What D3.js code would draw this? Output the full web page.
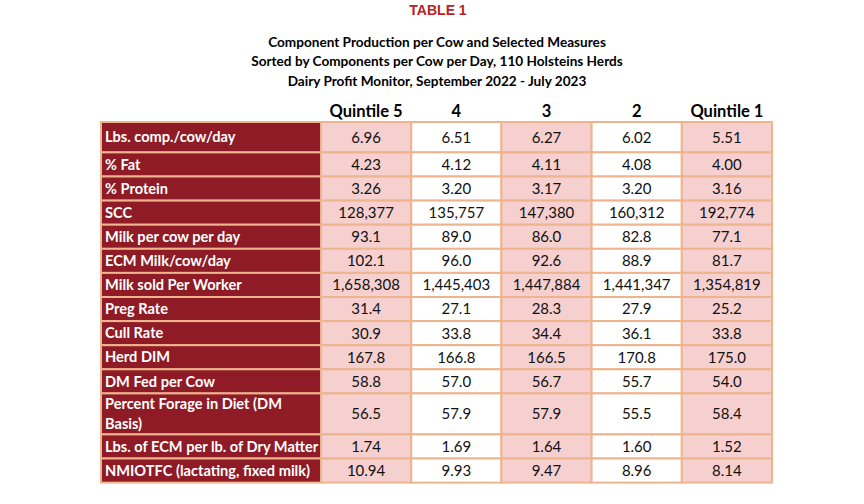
<!DOCTYPE html>
<html>
<head>
<meta charset="utf-8">
<script src="https://cdn.jsdelivr.net/npm/d3@7"></script>
<style>
  body { margin: 0; background: #fff; }
  text { font-family: Lato, "Open Sans", sans-serif; }
</style>
</head>
<body>
<div id="chart"></div>
<script>
// table content
var title = "TABLE 1";
var subtitle = [
  "Component Production per Cow and Selected Measures",
  "Sorted by Components per Cow per Day, 110 Holsteins Herds",
  "Dairy Profit Monitor, September 2022 - July 2023"
];
var quintiles = ["Quintile 5", "4", "3", "2", "Quintile 1"];
var measures = [
  "Lbs. comp./cow/day",
  "% Fat",
  "% Protein",
  "SCC",
  "Milk per cow per day",
  "ECM Milk/cow/day",
  "Milk sold Per Worker",
  "Preg Rate",
  "Cull Rate",
  "Herd DIM",
  "DM Fed per Cow",
  "Percent Forage in Diet (DM|Basis)",
  "Lbs. of ECM per lb. of Dry Matter",
  "NMIOTFC (lactating, fixed milk)"
];
var formats = [".2f", ".2f", ".2f", ",d", ".1f", ".1f", ",d", ".1f", ".1f", ".1f", ".1f", ".1f", ".2f", ".2f"];
var q5 = [6.96, 4.23, 3.26, 128377, 93.1, 102.1, 1658308, 31.4, 30.9, 167.8, 58.8, 56.5, 1.74, 10.94];
var q4 = [6.51, 4.12, 3.20, 135757, 89.0, 96.0, 1445403, 27.1, 33.8, 166.8, 57.0, 57.9, 1.69, 9.93];
var q3 = [6.27, 4.11, 3.17, 147380, 86.0, 92.6, 1447884, 28.3, 34.4, 166.5, 56.7, 57.9, 1.64, 9.47];
var q2 = [6.02, 4.08, 3.20, 160312, 82.8, 88.9, 1441347, 27.9, 36.1, 170.8, 55.7, 55.5, 1.60, 8.96];
var q1 = [5.51, 4.00, 3.16, 192774, 77.1, 81.7, 1354819, 25.2, 33.8, 175.0, 54.0, 58.4, 1.52, 8.14];
var series = [q5, q4, q3, q2, q1];

var width = 864, height = 504;
var tableLeft = 101, labelRight = 321, tableRight = 772, tableTop = 122;
var darkRed = "#8e1b25", pink = "#f6cfcf", borderCol = "#edb48e";

var svg = d3.select("#chart").append("svg")
  .attr("width", width)
  .attr("height", height);

svg.append("text")
  .attr("x", 438).attr("y", 15)
  .attr("text-anchor", "middle")
  .style("font-family", "'Liberation Sans', Arial, sans-serif")
  .style("font-weight", "bold")
  .style("font-size", "14px")
  .attr("fill", "#b8221f")
  .text(title);

svg.selectAll(".sub")
  .data(subtitle)
  .enter().append("text")
  .attr("class", "sub")
  .attr("x", 437)
  .attr("y", function(d, i) { return 47 + i * 19.3; })
  .attr("text-anchor", "middle")
  .style("font-weight", "bold")
  .style("font-size", "13.6px")
  .text(function(d) { return d; });

var x = d3.scaleBand()
  .domain(quintiles)
  .range([labelRight, tableRight]);

// row layout: first row a bit taller, wrapped labels take two lines
var rowH = measures.map(function(m, i) {
  if (m.indexOf("|") >= 0) return 41;
  return i === 0 ? 30.4 : 24.1;
});
var rowY = [];
rowH.reduce(function(acc, h) { rowY.push(acc); return acc + h; }, tableTop);

svg.selectAll(".head")
  .data(quintiles)
  .enter().append("text")
  .attr("class", "head")
  .attr("x", function(d) { return x(d) + x.bandwidth() / 2; })
  .attr("y", 117)
  .attr("text-anchor", "middle")
  .style("font-weight", "bold")
  .style("font-size", "16.5px")
  .text(function(d) { return d; });

var rows = svg.selectAll(".row")
  .data(measures)
  .enter().append("g")
  .attr("class", "row")
  .attr("transform", function(d, i) { return "translate(0," + rowY[i] + ")"; });

rows.append("rect")
  .attr("x", tableLeft)
  .attr("width", labelRight - tableLeft)
  .attr("height", function(d, i) { return rowH[i]; })
  .attr("fill", darkRed)
  .attr("stroke", borderCol)
  .attr("stroke-width", 2);

rows.each(function(d, i) {
  var lines = d.split("|");
  var g = d3.select(this);
  g.selectAll(".lbl")
    .data(lines)
    .enter().append("text")
    .attr("class", "lbl")
    .attr("x", tableLeft + 4)
    .attr("y", function(l, j) { return rowH[i] / 2 + (j - (lines.length - 1) / 2) * 20; })
    .attr("dy", "0.36em")
    .attr("fill", "#fff")
    .style("font-weight", "bold")
    .style("font-size", "14.6px")
    .text(function(l) { return l; });

  var cells = g.selectAll(".cell")
    .data(series.map(function(s, k) { return { q: quintiles[k], k: k, v: s[i] }; }))
    .enter();

  cells.append("rect")
    .attr("x", function(c) { return x(c.q); })
    .attr("width", x.bandwidth())
    .attr("height", rowH[i])
    .attr("fill", function(c) { return c.k % 2 === 0 ? pink : "#fff"; })
    .attr("stroke", borderCol)
    .attr("stroke-width", 2);

  cells.append("text")
    .attr("x", function(c) { return x(c.q) + x.bandwidth() / 2; })
    .attr("y", rowH[i] / 2)
    .attr("dy", "0.36em")
    .attr("text-anchor", "middle")
    .style("font-size", "15px")
    .attr("fill", "#111")
    .text(function(c) { return d3.format(formats[i])(c.v); });
});
</script>
</body>
</html>
